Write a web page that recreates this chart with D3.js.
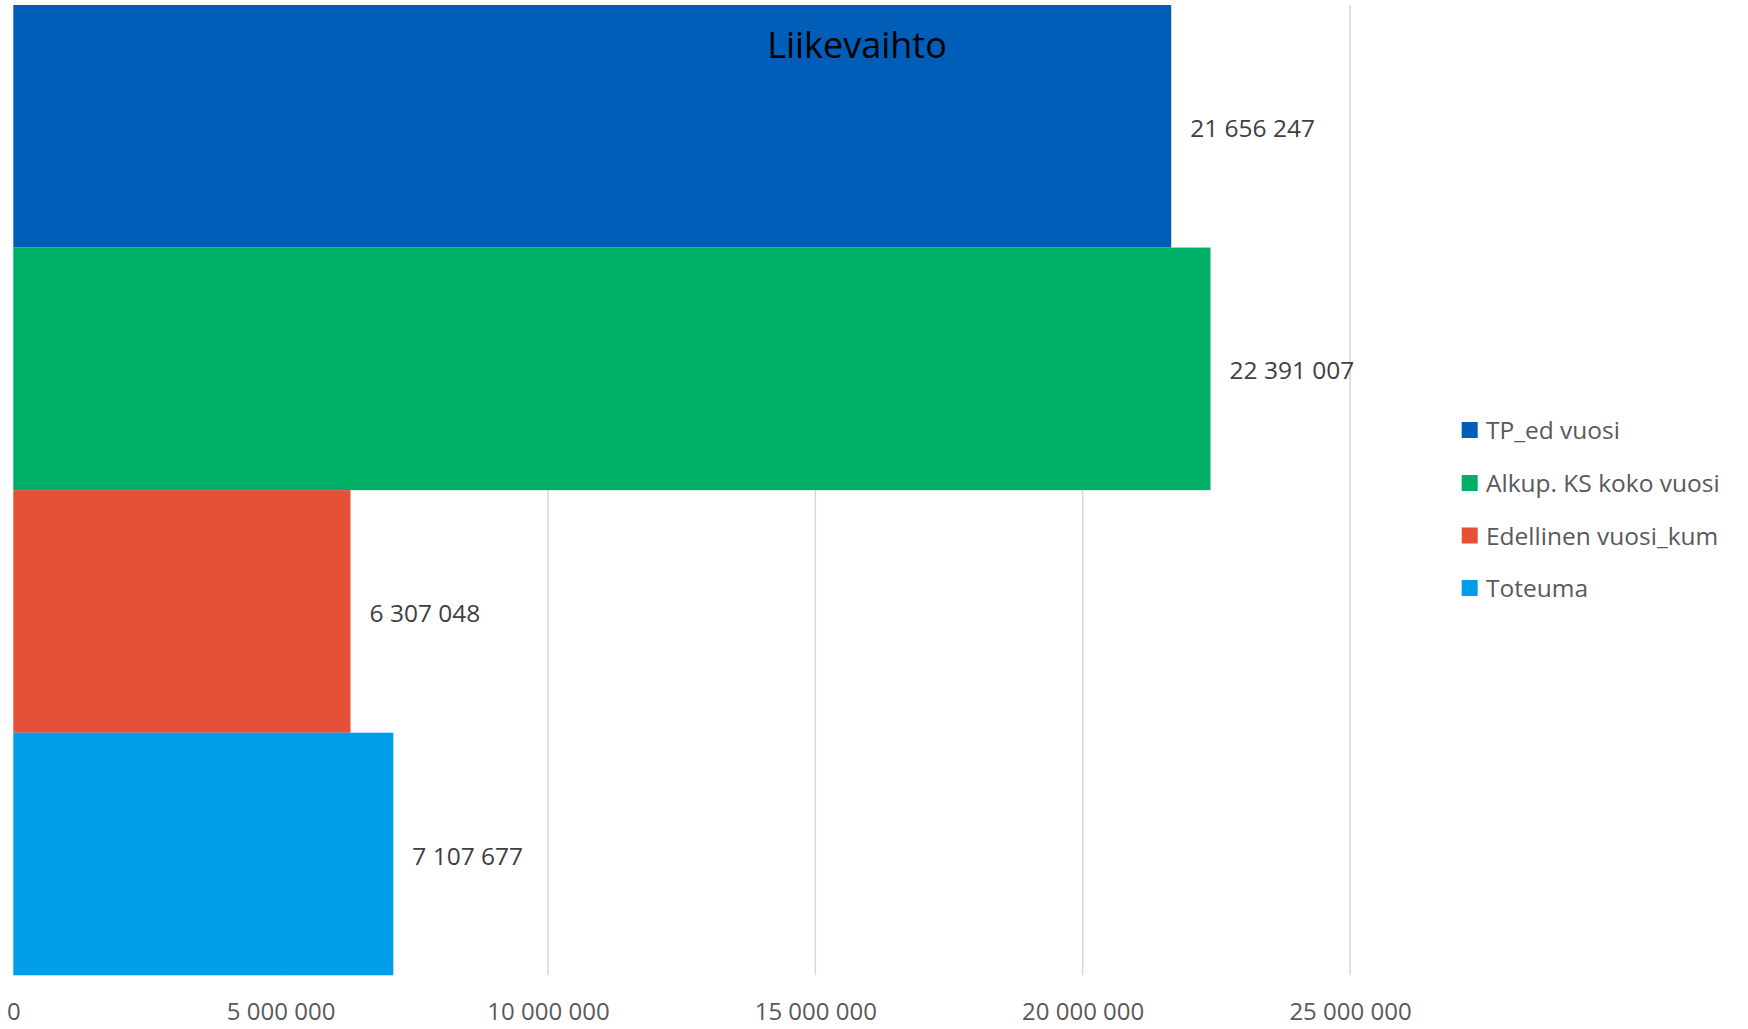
<!DOCTYPE html>
<html>
<head>
<meta charset="utf-8">
<script src="https://cdn.jsdelivr.net/npm/d3@7"></script>
<style>
html, body { margin: 0; padding: 0; background: #fff; }
svg { display: block; font-family: "Open Sans", "Noto Sans", sans-serif; }
</style>
</head>
<body>
<svg id="chart" width="1748" height="1029"></svg>
<script>
const title = "Liikevaihto";
const categories = ["TP_ed vuosi", "Alkup. KS koko vuosi", "Edellinen vuosi_kum", "Toteuma"];
const values = [21656247, 22391007, 6307048, 7107677];
const colors = ["#005EB8", "#00AF66", "#E55037", "#009EE8"];
const tickValues = [0, 5000000, 10000000, 15000000, 20000000, 25000000];

const fmt = v => d3.format(",")(v).replace(/,/g, " ");

const svg = d3.select("#chart");
const x = d3.scaleLinear().domain([0, 25000000]).range([13.3, 1350]);
const y = d3.scaleBand().domain(categories).range([5, 975.3]).padding(0);

// gridlines
svg.append("g").selectAll("line").data(tickValues.slice(1)).join("line")
  .attr("x1", d => x(d)).attr("x2", d => x(d))
  .attr("y1", 5).attr("y2", 975.3)
  .attr("stroke", "#d9d9d9").attr("stroke-width", 1.6);

// bars
svg.append("g").selectAll("rect").data(categories).join("rect")
  .attr("x", x(0))
  .attr("y", d => y(d))
  .attr("width", (d, i) => x(values[i]) - x(0))
  .attr("height", y.bandwidth())
  .attr("fill", (d, i) => colors[i]);

// data labels
svg.append("g").selectAll("text").data(categories).join("text")
  .attr("x", (d, i) => x(values[i]) + 19)
  .attr("y", d => y(d) + y.bandwidth() / 2 + 10.5)
  .attr("font-size", 24.5)
  .attr("fill", "#404040")
  .text((d, i) => fmt(values[i]));

// x axis tick labels
const axis = d3.axisBottom(x).tickValues(tickValues).tickSize(0).tickPadding(0).tickFormat(fmt);
const ax = svg.append("g").attr("transform", "translate(0,988)").call(axis);
ax.select(".domain").remove();
ax.selectAll("text")
  .attr("font-family", "'Open Sans', 'Noto Sans', sans-serif")
  .attr("font-size", 24)
  .attr("fill", "#595959")
  .attr("dy", null)
  .attr("y", 32);

// title
svg.append("text")
  .attr("x", 857).attr("y", 57.7)
  .attr("text-anchor", "middle")
  .attr("font-size", 36)
  .attr("fill", "#000")
  .text(title);

// legend
const leg = svg.append("g");
const legY = [430, 483, 535.5, 588];
const items = leg.selectAll("g").data(categories).join("g")
  .attr("transform", (d, i) => `translate(1461.7,${legY[i]})`);
items.append("rect").attr("x", 0).attr("y", -8).attr("width", 16).attr("height", 16)
  .attr("fill", (d, i) => colors[i]);
items.append("text").attr("x", 24.3).attr("y", 9)
  .attr("font-size", 24.5).attr("fill", "#595959")
  .text(d => d);
</script>
</body>
</html>
